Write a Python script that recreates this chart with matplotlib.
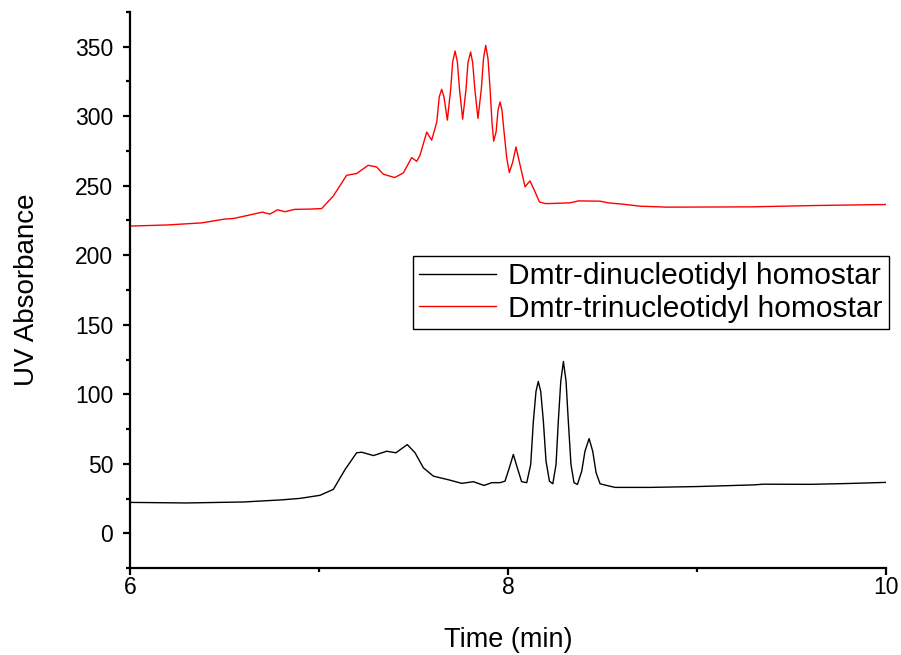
import matplotlib
matplotlib.use('Agg')
import matplotlib.pyplot as plt
from matplotlib.ticker import MultipleLocator

plt.rcParams['font.family'] = ['Liberation Sans', 'DejaVu Sans']

# Dmtr-dinucleotidyl homostar (black)
t_di = [6.00, 6.30, 6.60, 6.80, 6.90, 7.005, 7.076, 7.138, 7.199, 7.226, 7.288, 7.358,
        7.407, 7.467, 7.508, 7.552, 7.605, 7.693, 7.755, 7.817, 7.873, 7.914, 7.958,
        7.984, 8.007, 8.028, 8.049, 8.072, 8.099, 8.120, 8.134, 8.148, 8.160, 8.173,
        8.187, 8.201, 8.219, 8.237, 8.254, 8.266, 8.279, 8.293, 8.307, 8.319, 8.333,
        8.349, 8.367, 8.390, 8.407, 8.429, 8.448, 8.466, 8.487, 8.522, 8.566,
        8.75, 9.00, 9.30, 9.35, 9.60, 9.80, 10.00]
uv_di = [22.2, 21.8, 22.5, 24.0, 25.1, 27.3, 31.6, 45.9, 57.9, 58.3, 55.9, 59.0,
         57.9, 63.8, 57.9, 47.1, 41.1, 38.2, 35.9, 37.1, 34.4, 36.4, 36.4,
         37.5, 47.1, 56.7, 47.1, 37.1, 36.4, 49.5, 80.5, 102.1, 109.2, 102.1,
         80.5, 51.9, 37.5, 35.6, 49.5, 80.5, 109.2, 123.6, 109.2, 80.5, 49.5,
         36.4, 35.1, 44.7, 59.0, 68.1, 59.0, 43.5, 35.6, 34.4, 33.0,
         33.0, 33.6, 34.8, 35.3, 35.2, 35.8, 36.6]

# Dmtr-trinucleotidyl homostar (red)
t_tri = [6.00, 6.20, 6.38, 6.50, 6.55, 6.62, 6.70, 6.74, 6.78, 6.82, 6.87, 6.95, 7.014,
         7.076, 7.146, 7.199, 7.26, 7.305, 7.34, 7.40, 7.446, 7.49, 7.517, 7.534,
         7.570, 7.596, 7.623, 7.636, 7.649, 7.661, 7.679, 7.697, 7.707, 7.720, 7.732,
         7.743, 7.760, 7.778, 7.788, 7.802, 7.813, 7.824, 7.841, 7.859, 7.870, 7.882,
         7.894, 7.905, 7.915, 7.924, 7.937, 7.947, 7.958, 7.968, 7.979, 7.993, 8.007,
         8.025, 8.042, 8.060, 8.090, 8.116, 8.143, 8.166, 8.196, 8.222, 8.328, 8.372,
         8.487, 8.53, 8.61, 8.698, 8.84, 9.28, 9.633, 10.00]
uv_tri = [221.0, 221.8, 223.3, 226.0, 226.5, 228.6, 231.0, 229.6, 232.7, 231.3, 233.0, 233.2, 233.6,
          242.7, 257.5, 258.8, 264.7, 263.5, 258.3, 255.9, 259.2, 270.2, 267.6, 271.9,
          288.6, 282.8, 295.8, 313.9, 319.4, 313.9, 297.2, 319.9, 339.0, 346.9, 339.0,
          319.9, 297.9, 319.9, 338.5, 346.2, 338.5, 319.9, 298.4, 319.9, 341.4, 351.0,
          341.4, 319.9, 296.0, 282.1, 288.8, 304.3, 310.3, 304.3, 288.8, 270.0, 259.5,
          267.1, 277.9, 267.1, 249.2, 253.5, 245.6, 238.4, 237.2, 237.2, 237.7, 239.1,
          238.9, 237.7, 236.7, 235.3, 234.6, 234.8, 235.8, 236.5]

labels = ['Dmtr-dinucleotidyl homostar', 'Dmtr-trinucleotidyl homostar']

fig = plt.figure(figsize=(9.01, 6.55), dpi=100)
ax = fig.add_axes([0.1443, 0.1328, 0.8391, 0.8489])

ax.plot(t_di, uv_di, color='black', linewidth=1.0, label=labels[0], solid_joinstyle='round')
ax.plot(t_tri, uv_tri, color='red', linewidth=1.0, label=labels[1], solid_joinstyle='round')

ax.set_xlim(6, 10)
ax.set_ylim(-25, 375)
ax.xaxis.set_major_locator(MultipleLocator(2))
ax.xaxis.set_minor_locator(MultipleLocator(1))
ax.yaxis.set_major_locator(MultipleLocator(50))
ax.yaxis.set_minor_locator(MultipleLocator(25))

for side in ['top', 'right']:
    ax.spines[side].set_visible(False)
for side in ['left', 'bottom']:
    ax.spines[side].set_linewidth(1.6)

ax.tick_params(which='major', direction='out', length=5, width=1.6, labelsize=16.5)
ax.tick_params(axis='x', which='major', pad=1)
ax.tick_params(axis='y', which='major', pad=7)
ax.tick_params(which='minor', direction='out', length=3, width=1.6)

ax.set_xlabel('Time (min)', fontsize=19.5, labelpad=20)
ax.set_ylabel('UV Absorbance', fontsize=20, labelpad=25)

leg = ax.legend(loc='upper left', bbox_to_anchor=(0.374, 0.561), fontsize=21.5,
                frameon=True, fancybox=False, edgecolor='black', framealpha=1,
                handlelength=2.6, handletextpad=0.4, borderpad=0.2, labelspacing=0.15,
                borderaxespad=0)
leg.get_frame().set_linewidth(1.0)

fig.savefig('out.png', dpi=100)
